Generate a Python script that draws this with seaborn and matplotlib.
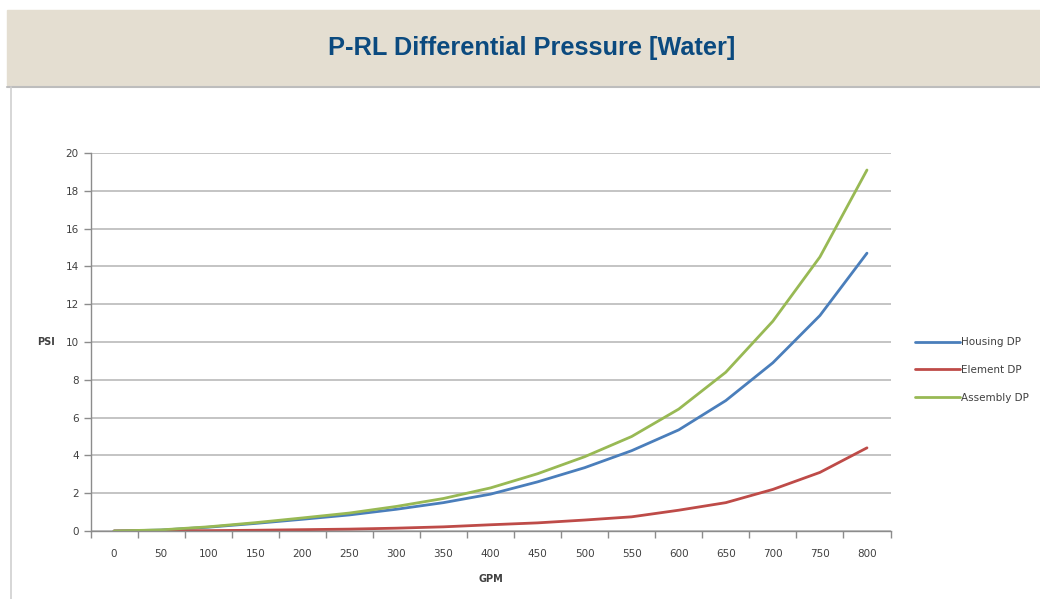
import numpy as np
import pandas as pd
import matplotlib
matplotlib.use("Agg")
import matplotlib.pyplot as plt
from matplotlib.patches import Rectangle
from matplotlib.lines import Line2D
from matplotlib.ticker import FixedLocator
import seaborn as sns

# Data
gpm = [0, 50, 100, 150, 200, 250, 300, 350, 400, 450, 500, 550, 600, 650, 700, 750, 800]
housing_dp = [0, 0.05, 0.2, 0.4, 0.62, 0.85, 1.15, 1.5, 1.95, 2.6, 3.35, 4.25, 5.35, 6.9, 8.9, 11.4, 14.7]
element_dp = [0, 0.01, 0.02, 0.04, 0.07, 0.1, 0.15, 0.22, 0.33, 0.43, 0.58, 0.75, 1.1, 1.5, 2.2, 3.1, 4.4]
assembly_dp = [0, 0.06, 0.22, 0.44, 0.69, 0.95, 1.3, 1.72, 2.28, 3.03, 3.93, 5.0, 6.45, 8.4, 11.1, 14.5, 19.1]
series = ["Housing DP", "Element DP", "Assembly DP"]
colors = ["#4A7EBB", "#BE4B48", "#98B954"]

df = pd.DataFrame({"GPM": gpm * 3,
                   "PSI": housing_dp + element_dp + assembly_dp,
                   "Series": np.repeat(series, len(gpm))})

sns.set_style("white")
plt.rcParams["font.family"] = ["DejaVu Sans"]

fig = plt.figure(figsize=(10.4, 5.99), dpi=100)

# header band
fig.patches.append(Rectangle((7 / 1040, 1 - 85 / 599), 1, 75 / 599,
                             transform=fig.transFigure, color="#E4DED1", zorder=0))
fig.lines.append(Line2D([7 / 1040, 1], [1 - 86.5 / 599] * 2, transform=fig.transFigure,
                        color="#BDBDBD", lw=1.5))
fig.lines.append(Line2D([10.5 / 1040] * 2, [0, 1 - 87 / 599], transform=fig.transFigure,
                        color="#CFCFCF", lw=1.2))
fig.text(0.511, 1 - 48 / 599, "P-RL Differential Pressure [Water]",
         family=["Liberation Sans Narrow", "Liberation Sans", "DejaVu Sans"],
         fontsize=18.3, fontweight="bold", color="#0B4A7F", ha="center", va="center")

ax = fig.add_axes([90.5 / 1040, 1 - 531 / 599, 800 / 1040, 378 / 599])
sns.lineplot(data=df, x="GPM", y="PSI", hue="Series", palette=colors,
             linewidth=2.0, ax=ax, legend=False)

ax.set_xlim(-25, 825)
ax.set_ylim(0, 20)
ax.set_xticks(gpm)
ax.xaxis.set_minor_locator(FixedLocator(np.arange(-25, 826, 50)))
ax.set_yticks(np.arange(0, 21, 2))
ax.tick_params(axis="x", which="major", length=0, pad=13, labelsize=7.5, colors="#404040")
ax.tick_params(axis="x", which="minor", length=5, width=1, color="#8C8C8C", direction="out", bottom=True)
ax.tick_params(axis="y", length=5, width=1, color="#8C8C8C", labelsize=7.5, colors="#404040", left=True)
ax.grid(axis="y", color="#BFBFBF", lw=1.3)
ax.grid(axis="x", visible=False)
for s in ["top", "right"]:
    ax.spines[s].set_visible(False)
for s in ["left", "bottom"]:
    ax.spines[s].set_color("#8C8C8C")
    ax.spines[s].set_linewidth(1)
ax.set_xlabel("GPM", fontsize=7, fontweight="bold", color="#404040", labelpad=11)
ax.set_ylabel("PSI", fontsize=7, fontweight="bold", color="#404040", rotation=0, labelpad=14, va="center")

handles = [Line2D([], [], color=c, lw=2.0) for c in colors]
leg = ax.legend(handles, series, loc="center left", bbox_to_anchor=(1.019, 0.426),
                frameon=False, fontsize=7.5, handlelength=4.3, handletextpad=0.1,
                labelspacing=1.7)
for t in leg.get_texts():
    t.set_color("#404040")

fig.savefig("out.png", dpi=100)
